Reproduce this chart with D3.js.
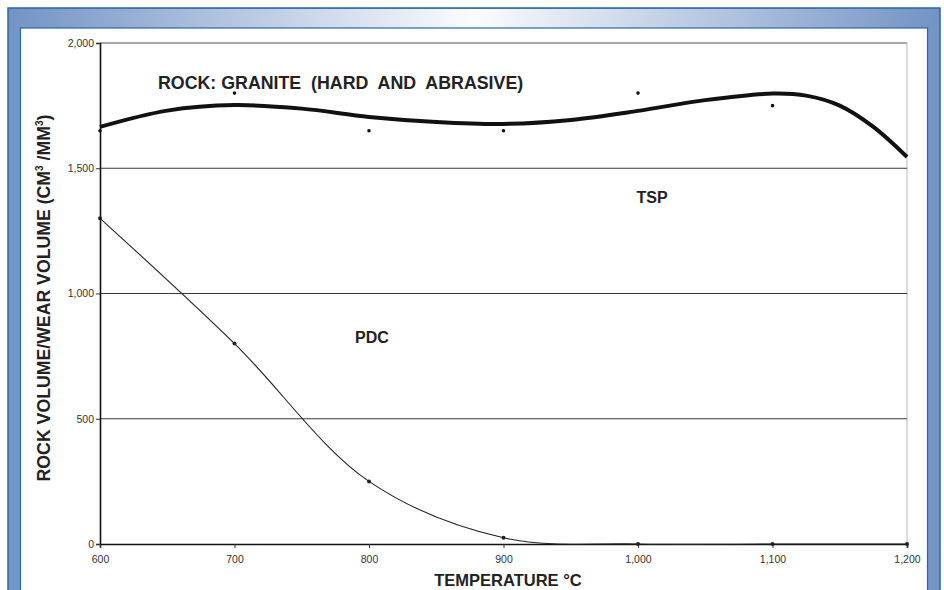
<!DOCTYPE html>
<html>
<head>
<meta charset="utf-8">
<script src="https://cdn.jsdelivr.net/npm/d3@7/dist/d3.min.js"></script>
<style>
  html, body { margin: 0; padding: 0; background: #ffffff; }
  svg { display: block; font-family: "Liberation Sans", Arial, sans-serif; }
  text { white-space: pre; }
</style>
</head>
<body>
<svg id="chart" width="944" height="590"></svg>
<script>
// Temperature (°C) on the x axis
const temperatures = [600, 700, 800, 900, 1000, 1100, 1200];
// Measured TSP wear ratios (600–1100 °C)
const tspTemps = [600, 700, 800, 900, 1000, 1100];
const tspValues = [1650, 1800, 1650, 1650, 1800, 1750];
// TSP trend curve, sampled every 25–50 °C
const tspTrendTemps = [600, 650, 700, 750, 800, 850, 900, 950, 1000, 1050, 1100, 1125, 1150, 1175, 1200];
const tspTrendValues = [1665, 1730, 1752, 1738, 1705, 1685, 1677, 1693, 1729, 1772, 1798, 1790, 1750, 1665, 1545];
// PDC wear ratios
const pdcValues = [1300, 800, 250, 25, 0, 0, 0];
// Axis ticks
const yTicks = [0, 500, 1000, 1500, 2000];
const xTicks = [600, 700, 800, 900, 1000, 1100, 1200];

const svg = d3.select("#chart");

// ---- Frame with blue border and gradient header ----
const defs = svg.append("defs");
const grad = defs.append("linearGradient").attr("id", "hdr").attr("x1", "0%").attr("x2", "100%");
grad.append("stop").attr("offset", "0%").attr("stop-color", "#7393c4");
grad.append("stop").attr("offset", "50%").attr("stop-color", "#fbfcfe");
grad.append("stop").attr("offset", "100%").attr("stop-color", "#7393c4");

svg.append("rect").attr("x", 8).attr("y", 8).attr("width", 932).attr("height", 600)
  .attr("fill", "#7496c6").attr("stroke", "#2b66a8").attr("stroke-width", 1.5);
svg.append("rect").attr("x", 9).attr("y", 9).attr("width", 930).attr("height", 19)
  .attr("fill", "url(#hdr)");
svg.append("rect").attr("x", 20.5).attr("y", 28).attr("width", 907).attr("height", 600)
  .attr("fill", "#ffffff").attr("stroke", "#2b66a8").attr("stroke-width", 1.2);

// ---- Scales ----
const x = d3.scaleLinear().domain([600, 1200]).range([100, 907]);
const y = d3.scaleLinear().domain([0, 2000]).range([544, 43]);

// Plot frame (top and right)
svg.append("line").attr("x1", 100).attr("x2", 907).attr("y1", y(2000)).attr("y2", y(2000))
  .attr("stroke", "#8a8a8a").attr("stroke-width", 1.5);
svg.append("line").attr("x1", 907).attr("x2", 907).attr("y1", y(2000)).attr("y2", y(0))
  .attr("stroke", "#c4c4c4").attr("stroke-width", 1.2);

// Horizontal gridlines
svg.append("g").selectAll("line").data(yTicks.filter(d => d > 0 && d < 2000)).join("line")
  .attr("x1", 100).attr("x2", 907)
  .attr("y1", d => y(d)).attr("y2", d => y(d))
  .attr("stroke", "#3a3a3a").attr("stroke-width", 1);

// ---- Axes ----
const fmt = d3.format(",");
const yAxis = svg.append("g").attr("transform", "translate(100,0)")
  .call(d3.axisLeft(y).tickValues(yTicks).tickFormat(fmt).tickSize(4).tickPadding(2));
const xAxis = svg.append("g").attr("transform", `translate(0,${y(0)})`)
  .call(d3.axisBottom(x).tickValues(xTicks).tickFormat(fmt).tickSize(4).tickPadding(8));
[yAxis, xAxis].forEach(g => {
  g.select(".domain").attr("stroke", "#111").attr("stroke-width", 1.6);
  g.selectAll(".tick line").attr("stroke", "#333");
  g.selectAll(".tick text").attr("fill", "#333").attr("font-size", "10.5px")
    .attr("font-family", "Liberation Sans, Arial, sans-serif");
});

// ---- TSP trend curve and points ----
const trend = tspTrendTemps.map((t, i) => [t, tspTrendValues[i]]);
svg.append("path").datum(trend)
  .attr("d", d3.line().x(d => x(d[0])).y(d => y(d[1])).curve(d3.curveCatmullRom.alpha(0.5)))
  .attr("fill", "none").attr("stroke", "#111").attr("stroke-width", 4).attr("stroke-linecap", "butt");
svg.append("g").selectAll("circle").data(tspTemps.map((t, i) => [t, tspValues[i]])).join("circle")
  .attr("cx", d => x(d[0])).attr("cy", d => y(d[1])).attr("r", 1.8).attr("fill", "#111");

// ---- PDC smoothed line and points ----
const pdc = temperatures.map((t, i) => [t, pdcValues[i]]);
svg.append("path").datum(pdc)
  .attr("d", d3.line().x(d => x(d[0])).y(d => Math.min(y(d[1]), y(0))).curve(d3.curveCatmullRom.alpha(0.5)))
  .attr("fill", "none").attr("stroke", "#222").attr("stroke-width", 1.1);
svg.append("g").selectAll("circle").data(pdc).join("circle")
  .attr("cx", d => x(d[0])).attr("cy", d => y(d[1])).attr("r", 2).attr("fill", "#222");

// ---- Labels ----
svg.append("text").attr("x", 158).attr("y", 89)
  .attr("font-size", "17.8px").attr("font-weight", "bold").attr("fill", "#222")
  .text("ROCK: GRANITE  (HARD  AND  ABRASIVE)");
svg.append("text").attr("x", 652).attr("y", 203).attr("text-anchor", "middle")
  .attr("font-size", "16px").attr("font-weight", "bold").attr("fill", "#222").text("TSP");
svg.append("text").attr("x", 372).attr("y", 343).attr("text-anchor", "middle")
  .attr("font-size", "16px").attr("font-weight", "bold").attr("fill", "#222").text("PDC");

// Axis titles
svg.append("text").attr("x", 508).attr("y", 586).attr("text-anchor", "middle")
  .attr("font-size", "16.5px").attr("font-weight", "bold").attr("fill", "#222")
  .text("TEMPERATURE °C");

const yt = svg.append("text").attr("transform", "translate(50,298) rotate(-90)")
  .attr("text-anchor", "middle").attr("font-size", "17.7px").attr("font-weight", "bold").attr("fill", "#222");
yt.append("tspan").text("ROCK VOLUME/WEAR VOLUME (CM");
yt.append("tspan").attr("font-size", "10px").attr("dy", "-7").text("3");
yt.append("tspan").attr("dy", "7").text(" /MM");
yt.append("tspan").attr("font-size", "10px").attr("dy", "-7").text("3");
yt.append("tspan").attr("dy", "7").text(")");
</script>
</body>
</html>
